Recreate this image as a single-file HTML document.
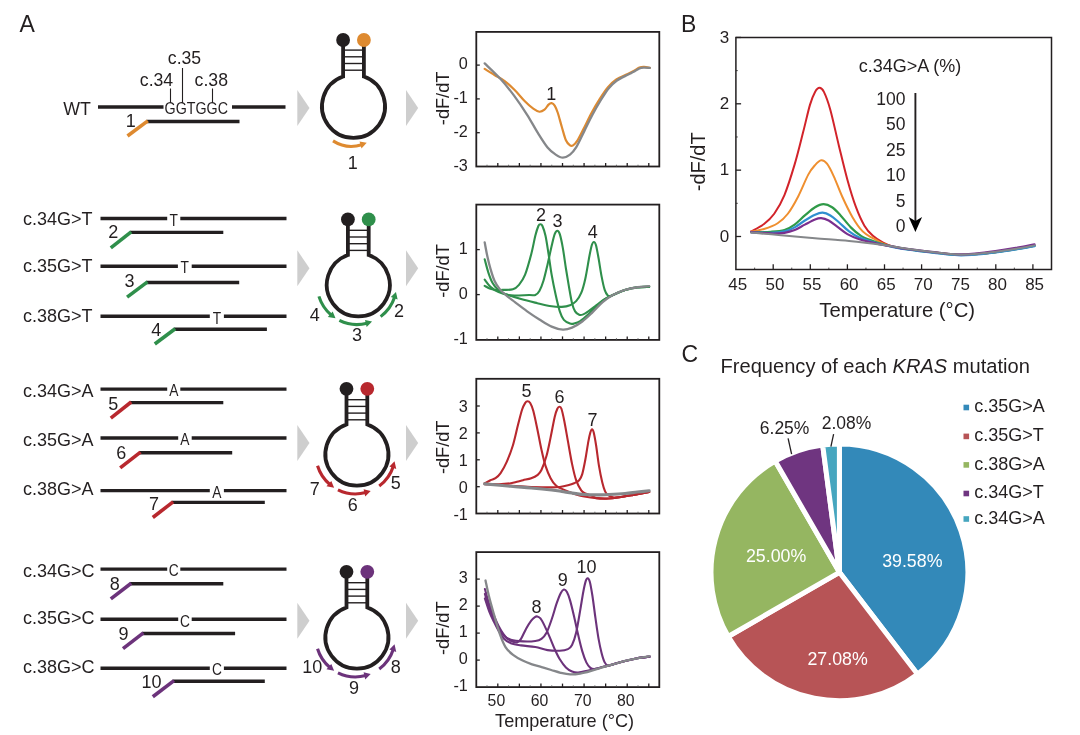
<!DOCTYPE html>
<html lang="en">
<head>
<meta charset="utf-8">
<title>KRAS mutation melting curve analysis</title>
<style>
html,body{margin:0;padding:0;background:#fff;}
body{width:1080px;height:735px;overflow:hidden;}
svg{display:block;font-family:"Liberation Sans", Arial, Helvetica, sans-serif;}
</style>
</head>
<body>
<svg width="1080" height="735" viewBox="0 0 1080 735">
<rect width="1080" height="735" fill="#fff"/>
<text x="19.5" y="31.6" font-size="23" text-anchor="start" fill="#231f20">A</text>
<text x="681" y="31.6" font-size="23" text-anchor="start" fill="#231f20">B</text>
<text x="681.6" y="361.5" font-size="23" text-anchor="start" fill="#231f20">C</text>
<text x="63.3" y="114.9" font-size="17.8" text-anchor="start" fill="#231f20">WT</text>
<line x1="98" y1="107" x2="163.5" y2="107" stroke="#231f20" stroke-width="3.4" stroke-linecap="butt"/>
<line x1="232" y1="107" x2="285.5" y2="107" stroke="#231f20" stroke-width="3.4" stroke-linecap="butt"/>
<text transform="translate(196.3,113.8) scale(0.85,1)" font-size="16.8" text-anchor="middle" fill="#231f20">GGTGGC</text>
<text transform="translate(156.5,86) scale(1.01,1)" font-size="17.5" text-anchor="middle" fill="#231f20">c.34</text>
<text transform="translate(184.5,64.4) scale(1.01,1)" font-size="17.5" text-anchor="middle" fill="#231f20">c.35</text>
<text transform="translate(211.3,86) scale(1.01,1)" font-size="17.5" text-anchor="middle" fill="#231f20">c.38</text>
<line x1="170.5" y1="88.5" x2="170.5" y2="103" stroke="#231f20" stroke-width="1.1" stroke-linecap="butt"/>
<line x1="182.5" y1="68" x2="182.5" y2="103" stroke="#231f20" stroke-width="1.1" stroke-linecap="butt"/>
<line x1="212.5" y1="88.5" x2="212.5" y2="103" stroke="#231f20" stroke-width="1.1" stroke-linecap="butt"/>
<line x1="146.5" y1="121.5" x2="239.5" y2="121.5" stroke="#231f20" stroke-width="3.4" stroke-linecap="butt"/>
<line x1="147.8" y1="120.9" x2="127.5" y2="136" stroke="#de8a30" stroke-width="3.6" stroke-linecap="butt"/>
<text x="130.8" y="127" font-size="18" text-anchor="middle" fill="#231f20">1</text>
<line x1="343.1" y1="50.1" x2="363.9" y2="50.1" stroke="#231f20" stroke-width="1.4" stroke-linecap="butt"/>
<line x1="343.1" y1="56.8" x2="363.9" y2="56.8" stroke="#231f20" stroke-width="1.4" stroke-linecap="butt"/>
<line x1="343.1" y1="63.5" x2="363.9" y2="63.5" stroke="#231f20" stroke-width="1.4" stroke-linecap="butt"/>
<line x1="343.1" y1="70.2" x2="363.9" y2="70.2" stroke="#231f20" stroke-width="1.4" stroke-linecap="butt"/>
<path d="M343.1,40 L343.1,76.57 A31.5,31.5 0 1 0 363.9,76.57 L363.9,40" fill="none" stroke="#231f20" stroke-width="3.8" stroke-linejoin="miter"/>
<circle cx="343.1" cy="40" r="6.9" fill="#231f20"/>
<circle cx="363.9" cy="40" r="6.9" fill="#de8a30"/>
<polygon points="297.3,90.1 309.5,108.1 297.3,126.1" fill="#cecece"/>
<polygon points="406,90.1 418.2,108.1 406,126.1" fill="#cecece"/>
<path d="M333.02,140.9 A34.3,34.3 0 0 0 361.8,144.72" fill="none" stroke="#de8a30" stroke-width="3.1"/>
<polygon points="366.7,142.75 361.49,148.59 359.58,141.59" fill="#de8a30"/>
<text x="352.8" y="168.9" font-size="18" text-anchor="middle" fill="#231f20">1</text>
<text x="22.9" y="224.6" font-size="18" text-anchor="start" fill="#231f20">c.34G&gt;T</text>
<line x1="100.5" y1="218.5" x2="167.2" y2="218.5" stroke="#231f20" stroke-width="3.4" stroke-linecap="butt"/>
<line x1="180.3" y1="218.5" x2="286.5" y2="218.5" stroke="#231f20" stroke-width="3.4" stroke-linecap="butt"/>
<text transform="translate(173.75,225.7) scale(0.82,1)" font-size="16.8" text-anchor="middle" fill="#231f20">T</text>
<line x1="129.9" y1="232.4" x2="223.3" y2="232.4" stroke="#231f20" stroke-width="3.4" stroke-linecap="butt"/>
<line x1="131.2" y1="231.8" x2="110.8" y2="247.9" stroke="#2f8f4b" stroke-width="3.6" stroke-linecap="butt"/>
<text x="113.3" y="237.8" font-size="18" text-anchor="middle" fill="#231f20">2</text>
<text x="22.9" y="272" font-size="18" text-anchor="start" fill="#231f20">c.35G&gt;T</text>
<line x1="100.5" y1="266.2" x2="177.9" y2="266.2" stroke="#231f20" stroke-width="3.4" stroke-linecap="butt"/>
<line x1="191.7" y1="266.2" x2="286.5" y2="266.2" stroke="#231f20" stroke-width="3.4" stroke-linecap="butt"/>
<text transform="translate(184.8,273.4) scale(0.82,1)" font-size="16.8" text-anchor="middle" fill="#231f20">T</text>
<line x1="146.2" y1="282.5" x2="239.2" y2="282.5" stroke="#231f20" stroke-width="3.4" stroke-linecap="butt"/>
<line x1="147.5" y1="281.9" x2="127.1" y2="297.1" stroke="#2f8f4b" stroke-width="3.6" stroke-linecap="butt"/>
<text x="129.6" y="286.8" font-size="18" text-anchor="middle" fill="#231f20">3</text>
<text x="22.9" y="321.8" font-size="18" text-anchor="start" fill="#231f20">c.38G&gt;T</text>
<line x1="100.5" y1="316.3" x2="209.8" y2="316.3" stroke="#231f20" stroke-width="3.4" stroke-linecap="butt"/>
<line x1="223.9" y1="316.3" x2="286.5" y2="316.3" stroke="#231f20" stroke-width="3.4" stroke-linecap="butt"/>
<text transform="translate(216.85,323.5) scale(0.82,1)" font-size="16.8" text-anchor="middle" fill="#231f20">T</text>
<line x1="173.9" y1="329.3" x2="266.9" y2="329.3" stroke="#231f20" stroke-width="3.4" stroke-linecap="butt"/>
<line x1="175.2" y1="328.7" x2="154.8" y2="344" stroke="#2f8f4b" stroke-width="3.6" stroke-linecap="butt"/>
<text x="156.3" y="335.7" font-size="18" text-anchor="middle" fill="#231f20">4</text>
<line x1="347.9" y1="230.3" x2="368.7" y2="230.3" stroke="#231f20" stroke-width="1.4" stroke-linecap="butt"/>
<line x1="347.9" y1="237" x2="368.7" y2="237" stroke="#231f20" stroke-width="1.4" stroke-linecap="butt"/>
<line x1="347.9" y1="243.7" x2="368.7" y2="243.7" stroke="#231f20" stroke-width="1.4" stroke-linecap="butt"/>
<line x1="347.9" y1="250.4" x2="368.7" y2="250.4" stroke="#231f20" stroke-width="1.4" stroke-linecap="butt"/>
<path d="M347.9,219.4 L347.9,255.07 A31.5,31.5 0 1 0 368.7,255.07 L368.7,219.4" fill="none" stroke="#231f20" stroke-width="3.8" stroke-linejoin="miter"/>
<circle cx="347.9" cy="219.4" r="6.9" fill="#231f20"/>
<circle cx="368.7" cy="219.4" r="6.9" fill="#2f8f4b"/>
<polygon points="297.3,250.3 309.5,268.3 297.3,286.3" fill="#cecece"/>
<polygon points="406,250.3 418.2,268.3 406,286.3" fill="#cecece"/>
<path d="M318.93,296.41 A39.7,39.7 0 0 0 331.26,315.11" fill="none" stroke="#2f8f4b" stroke-width="3.1"/>
<polygon points="335.51,318.25 327.84,316.94 332.71,311.55" fill="#2f8f4b"/>
<path d="M339.37,320.42 A39.7,39.7 0 0 0 367.09,323.17" fill="none" stroke="#2f8f4b" stroke-width="3.1"/>
<polygon points="372.09,321.48 366.63,327.02 365,319.95" fill="#2f8f4b"/>
<path d="M380.63,316.63 A39.7,39.7 0 0 0 394.65,297.08" fill="none" stroke="#2f8f4b" stroke-width="3.1"/>
<polygon points="395.95,291.97 397.64,299.57 390.81,297.09" fill="#2f8f4b"/>
<text x="314.7" y="321.2" font-size="18" text-anchor="middle" fill="#231f20">4</text>
<text x="356.9" y="340.7" font-size="18" text-anchor="middle" fill="#231f20">3</text>
<text x="398.9" y="317.1" font-size="18" text-anchor="middle" fill="#231f20">2</text>
<text x="22.9" y="396.8" font-size="18" text-anchor="start" fill="#231f20">c.34G&gt;A</text>
<line x1="100.5" y1="389.1" x2="167.2" y2="389.1" stroke="#231f20" stroke-width="3.4" stroke-linecap="butt"/>
<line x1="180.3" y1="389.1" x2="286.5" y2="389.1" stroke="#231f20" stroke-width="3.4" stroke-linecap="butt"/>
<text transform="translate(173.75,396.3) scale(0.82,1)" font-size="16.8" text-anchor="middle" fill="#231f20">A</text>
<line x1="129.9" y1="402.6" x2="223.3" y2="402.6" stroke="#231f20" stroke-width="3.4" stroke-linecap="butt"/>
<line x1="131.2" y1="402" x2="110.8" y2="418.1" stroke="#b8282e" stroke-width="3.6" stroke-linecap="butt"/>
<text x="113.3" y="409.7" font-size="18" text-anchor="middle" fill="#231f20">5</text>
<text x="22.9" y="446.4" font-size="18" text-anchor="start" fill="#231f20">c.35G&gt;A</text>
<line x1="100.5" y1="438" x2="178.2" y2="438" stroke="#231f20" stroke-width="3.4" stroke-linecap="butt"/>
<line x1="191.7" y1="438" x2="286.5" y2="438" stroke="#231f20" stroke-width="3.4" stroke-linecap="butt"/>
<text transform="translate(184.95,445.2) scale(0.82,1)" font-size="16.8" text-anchor="middle" fill="#231f20">A</text>
<line x1="139.2" y1="452.7" x2="232.2" y2="452.7" stroke="#231f20" stroke-width="3.4" stroke-linecap="butt"/>
<line x1="140.5" y1="452.1" x2="120.2" y2="467.8" stroke="#b8282e" stroke-width="3.6" stroke-linecap="butt"/>
<text x="121.2" y="459.4" font-size="18" text-anchor="middle" fill="#231f20">6</text>
<text x="22.9" y="495.3" font-size="18" text-anchor="start" fill="#231f20">c.38G&gt;A</text>
<line x1="100.5" y1="490.6" x2="209.8" y2="490.6" stroke="#231f20" stroke-width="3.4" stroke-linecap="butt"/>
<line x1="223.9" y1="490.6" x2="286.5" y2="490.6" stroke="#231f20" stroke-width="3.4" stroke-linecap="butt"/>
<text transform="translate(216.85,497.8) scale(0.82,1)" font-size="16.8" text-anchor="middle" fill="#231f20">A</text>
<line x1="171.8" y1="502.4" x2="264.8" y2="502.4" stroke="#231f20" stroke-width="3.4" stroke-linecap="butt"/>
<line x1="173.1" y1="501.8" x2="152.8" y2="517.5" stroke="#b8282e" stroke-width="3.6" stroke-linecap="butt"/>
<text x="154.1" y="509.5" font-size="18" text-anchor="middle" fill="#231f20">7</text>
<line x1="346.5" y1="399.7" x2="367.3" y2="399.7" stroke="#231f20" stroke-width="1.4" stroke-linecap="butt"/>
<line x1="346.5" y1="406.4" x2="367.3" y2="406.4" stroke="#231f20" stroke-width="1.4" stroke-linecap="butt"/>
<line x1="346.5" y1="413.1" x2="367.3" y2="413.1" stroke="#231f20" stroke-width="1.4" stroke-linecap="butt"/>
<line x1="346.5" y1="419.8" x2="367.3" y2="419.8" stroke="#231f20" stroke-width="1.4" stroke-linecap="butt"/>
<path d="M346.5,388.8 L346.5,424.47 A31.5,31.5 0 1 0 367.3,424.47 L367.3,388.8" fill="none" stroke="#231f20" stroke-width="3.8" stroke-linejoin="miter"/>
<circle cx="346.5" cy="388.8" r="6.9" fill="#231f20"/>
<circle cx="367.3" cy="388.8" r="6.9" fill="#b8282e"/>
<polygon points="297.3,425 309.5,443 297.3,461" fill="#cecece"/>
<polygon points="406,425 418.2,443 406,461" fill="#cecece"/>
<path d="M317.53,465.81 A39.7,39.7 0 0 0 329.86,484.51" fill="none" stroke="#b8282e" stroke-width="3.1"/>
<polygon points="334.11,487.65 326.44,486.34 331.31,480.95" fill="#b8282e"/>
<path d="M337.97,489.82 A39.7,39.7 0 0 0 365.69,492.57" fill="none" stroke="#b8282e" stroke-width="3.1"/>
<polygon points="370.69,490.88 365.23,496.42 363.6,489.35" fill="#b8282e"/>
<path d="M379.23,486.03 A39.7,39.7 0 0 0 393.25,466.48" fill="none" stroke="#b8282e" stroke-width="3.1"/>
<polygon points="394.55,461.37 396.24,468.97 389.41,466.49" fill="#b8282e"/>
<text x="314.7" y="495.1" font-size="18" text-anchor="middle" fill="#231f20">7</text>
<text x="352.8" y="511.4" font-size="18" text-anchor="middle" fill="#231f20">6</text>
<text x="395.8" y="489.4" font-size="18" text-anchor="middle" fill="#231f20">5</text>
<text x="22.9" y="576.8" font-size="18" text-anchor="start" fill="#231f20">c.34G&gt;C</text>
<line x1="100.5" y1="569.1" x2="167.2" y2="569.1" stroke="#231f20" stroke-width="3.4" stroke-linecap="butt"/>
<line x1="180.3" y1="569.1" x2="286.5" y2="569.1" stroke="#231f20" stroke-width="3.4" stroke-linecap="butt"/>
<text transform="translate(173.75,576.3) scale(0.82,1)" font-size="16.8" text-anchor="middle" fill="#231f20">C</text>
<line x1="129.9" y1="583.8" x2="223.3" y2="583.8" stroke="#231f20" stroke-width="3.4" stroke-linecap="butt"/>
<line x1="131.2" y1="583.2" x2="110.8" y2="598.9" stroke="#6c337b" stroke-width="3.6" stroke-linecap="butt"/>
<text x="114.7" y="589.7" font-size="18" text-anchor="middle" fill="#231f20">8</text>
<text x="22.9" y="624" font-size="18" text-anchor="start" fill="#231f20">c.35G&gt;C</text>
<line x1="100.5" y1="619.3" x2="178.2" y2="619.3" stroke="#231f20" stroke-width="3.4" stroke-linecap="butt"/>
<line x1="191.7" y1="619.3" x2="286.5" y2="619.3" stroke="#231f20" stroke-width="3.4" stroke-linecap="butt"/>
<text transform="translate(184.95,626.5) scale(0.82,1)" font-size="16.8" text-anchor="middle" fill="#231f20">C</text>
<line x1="142.1" y1="633.5" x2="235.1" y2="633.5" stroke="#231f20" stroke-width="3.4" stroke-linecap="butt"/>
<line x1="143.4" y1="632.9" x2="123" y2="648.6" stroke="#6c337b" stroke-width="3.6" stroke-linecap="butt"/>
<text x="123.5" y="640.2" font-size="18" text-anchor="middle" fill="#231f20">9</text>
<text x="22.9" y="673.3" font-size="18" text-anchor="start" fill="#231f20">c.38G&gt;C</text>
<line x1="100.5" y1="668.2" x2="209.8" y2="668.2" stroke="#231f20" stroke-width="3.4" stroke-linecap="butt"/>
<line x1="223.9" y1="668.2" x2="286.5" y2="668.2" stroke="#231f20" stroke-width="3.4" stroke-linecap="butt"/>
<text transform="translate(216.85,675.4) scale(0.82,1)" font-size="16.8" text-anchor="middle" fill="#231f20">C</text>
<line x1="172.7" y1="681.2" x2="264.8" y2="681.2" stroke="#231f20" stroke-width="3.4" stroke-linecap="butt"/>
<line x1="174" y1="680.6" x2="152.8" y2="696.7" stroke="#6c337b" stroke-width="3.6" stroke-linecap="butt"/>
<text x="151.4" y="688.3" font-size="18" text-anchor="middle" fill="#231f20">10</text>
<line x1="346.5" y1="582.7" x2="367.3" y2="582.7" stroke="#231f20" stroke-width="1.4" stroke-linecap="butt"/>
<line x1="346.5" y1="589.4" x2="367.3" y2="589.4" stroke="#231f20" stroke-width="1.4" stroke-linecap="butt"/>
<line x1="346.5" y1="596.1" x2="367.3" y2="596.1" stroke="#231f20" stroke-width="1.4" stroke-linecap="butt"/>
<line x1="346.5" y1="602.8" x2="367.3" y2="602.8" stroke="#231f20" stroke-width="1.4" stroke-linecap="butt"/>
<path d="M346.5,571.8 L346.5,607.47 A31.5,31.5 0 1 0 367.3,607.47 L367.3,571.8" fill="none" stroke="#231f20" stroke-width="3.8" stroke-linejoin="miter"/>
<circle cx="346.5" cy="571.8" r="6.9" fill="#231f20"/>
<circle cx="367.3" cy="571.8" r="6.9" fill="#6c337b"/>
<polygon points="297.3,602.8 309.5,620.8 297.3,638.8" fill="#cecece"/>
<polygon points="406,602.8 418.2,620.8 406,638.8" fill="#cecece"/>
<path d="M317.53,648.81 A39.7,39.7 0 0 0 329.86,667.51" fill="none" stroke="#6c337b" stroke-width="3.1"/>
<polygon points="334.11,670.65 326.44,669.34 331.31,663.95" fill="#6c337b"/>
<path d="M337.97,672.82 A39.7,39.7 0 0 0 365.69,675.57" fill="none" stroke="#6c337b" stroke-width="3.1"/>
<polygon points="370.69,673.88 365.23,679.42 363.6,672.35" fill="#6c337b"/>
<path d="M379.23,669.03 A39.7,39.7 0 0 0 393.25,649.48" fill="none" stroke="#6c337b" stroke-width="3.1"/>
<polygon points="394.55,644.37 396.24,651.97 389.41,649.49" fill="#6c337b"/>
<text x="312.3" y="673.4" font-size="18" text-anchor="middle" fill="#231f20">10</text>
<text x="353.9" y="693.8" font-size="18" text-anchor="middle" fill="#231f20">9</text>
<text x="395.8" y="672.5" font-size="18" text-anchor="middle" fill="#231f20">8</text>
<path d="M484.69,68.88 C486.33,69.9 491.16,72.96 494.49,75 C497.82,77.04 501.29,78.57 504.69,81.12 C508.1,83.67 511.5,86.9 514.9,90.31 C518.3,93.71 522.04,98.47 525.1,101.53 C528.16,104.59 530.88,106.97 533.27,108.67 C535.65,110.37 537.52,111.56 539.39,111.73 C541.26,111.9 542.96,110.88 544.49,109.69 C546.02,108.5 547.38,105.68 548.57,104.59 C549.76,103.5 550.61,102.99 551.63,103.16 C552.65,103.33 553.67,104.01 554.69,105.61 C555.71,107.21 556.56,109.18 557.76,112.76 C558.95,116.33 560.48,122.45 561.84,127.04 C563.2,131.63 564.56,137.24 565.92,140.31 C567.28,143.37 568.81,144.56 570,145.41 C571.19,146.26 571.8,146.26 573.06,145.41 C574.32,144.56 575.82,143.03 577.55,140.31 C579.29,137.59 581.12,133.67 583.47,129.08 C585.82,124.49 588.91,117.79 591.63,112.76 C594.35,107.72 597.07,103.13 599.8,98.88 C602.52,94.63 605.2,90.48 607.96,87.24 C610.71,84.01 613.03,81.7 616.33,79.49 C619.63,77.28 624.86,75.41 627.76,73.98 C630.65,72.55 631.73,71.97 633.67,70.92 C635.61,69.86 637.65,68.32 639.39,67.65 C641.12,66.99 642.35,66.9 644.08,66.94 C645.82,66.97 648.84,67.7 649.8,67.86" fill="none" stroke="#de8a30" stroke-width="2.2" stroke-linejoin="round" stroke-linecap="round"/>
<path d="M484.69,63.37 C487.35,65.99 495.75,73.74 500.61,79.08 C505.48,84.42 509.46,89.46 513.88,95.41 C518.3,101.36 523.23,108.67 527.14,114.8 C531.05,120.92 533.95,126.7 537.35,132.14 C540.75,137.59 544.49,143.71 547.55,147.45 C550.61,151.19 553.16,152.89 555.71,154.59 C558.27,156.29 560.48,157.65 562.86,157.65 C565.24,157.65 567.79,156.29 570,154.59 C572.21,152.89 573.74,151.36 576.12,147.45 C578.5,143.54 581.56,136.56 584.29,131.12 C587.01,125.68 589.73,119.9 592.45,114.8 C595.17,109.69 597.89,104.93 600.61,100.51 C603.33,96.09 606.05,91.6 608.78,88.27 C611.5,84.93 613.78,82.76 616.94,80.51 C620.1,78.27 624.97,76.24 627.76,74.8 C630.54,73.35 631.73,72.89 633.67,71.84 C635.61,70.78 637.65,69.17 639.39,68.47 C641.12,67.77 642.35,67.76 644.08,67.65 C645.82,67.55 648.84,67.82 649.8,67.86" fill="none" stroke="#85878a" stroke-width="2.3" stroke-linejoin="round" stroke-linecap="round"/>
<text x="551.2" y="99.7" font-size="18" text-anchor="middle" fill="#231f20">1</text>
<rect x="476.3" y="31.9" width="183" height="134.6" fill="none" stroke="#231f20" stroke-width="1.8"/>
<line x1="487.01" y1="166.5" x2="487.01" y2="164.7" stroke="#555" stroke-width="0.8" stroke-linecap="butt"/>
<line x1="497.8" y1="166.5" x2="497.8" y2="163" stroke="#231f20" stroke-width="1.3" stroke-linecap="butt"/>
<line x1="508.59" y1="166.5" x2="508.59" y2="164.7" stroke="#555" stroke-width="0.8" stroke-linecap="butt"/>
<line x1="519.37" y1="166.5" x2="519.37" y2="163" stroke="#231f20" stroke-width="1.3" stroke-linecap="butt"/>
<line x1="530.15" y1="166.5" x2="530.15" y2="164.7" stroke="#555" stroke-width="0.8" stroke-linecap="butt"/>
<line x1="540.94" y1="166.5" x2="540.94" y2="163" stroke="#231f20" stroke-width="1.3" stroke-linecap="butt"/>
<line x1="551.73" y1="166.5" x2="551.73" y2="164.7" stroke="#555" stroke-width="0.8" stroke-linecap="butt"/>
<line x1="562.51" y1="166.5" x2="562.51" y2="163" stroke="#231f20" stroke-width="1.3" stroke-linecap="butt"/>
<line x1="573.3" y1="166.5" x2="573.3" y2="164.7" stroke="#555" stroke-width="0.8" stroke-linecap="butt"/>
<line x1="584.08" y1="166.5" x2="584.08" y2="163" stroke="#231f20" stroke-width="1.3" stroke-linecap="butt"/>
<line x1="594.87" y1="166.5" x2="594.87" y2="164.7" stroke="#555" stroke-width="0.8" stroke-linecap="butt"/>
<line x1="605.65" y1="166.5" x2="605.65" y2="163" stroke="#231f20" stroke-width="1.3" stroke-linecap="butt"/>
<line x1="616.44" y1="166.5" x2="616.44" y2="164.7" stroke="#555" stroke-width="0.8" stroke-linecap="butt"/>
<line x1="627.22" y1="166.5" x2="627.22" y2="163" stroke="#231f20" stroke-width="1.3" stroke-linecap="butt"/>
<line x1="638" y1="166.5" x2="638" y2="164.7" stroke="#555" stroke-width="0.8" stroke-linecap="butt"/>
<line x1="648.79" y1="166.5" x2="648.79" y2="163" stroke="#231f20" stroke-width="1.3" stroke-linecap="butt"/>
<line x1="476.3" y1="65.1" x2="479.8" y2="65.1" stroke="#231f20" stroke-width="1.3" stroke-linecap="butt"/>
<line x1="476.3" y1="98.9" x2="479.8" y2="98.9" stroke="#231f20" stroke-width="1.3" stroke-linecap="butt"/>
<line x1="476.3" y1="132.7" x2="479.8" y2="132.7" stroke="#231f20" stroke-width="1.3" stroke-linecap="butt"/>
<text x="467.8" y="69.3" font-size="16.2" text-anchor="end" fill="#231f20">0</text>
<text x="467.8" y="103.1" font-size="16.2" text-anchor="end" fill="#231f20">-1</text>
<text x="467.8" y="136.9" font-size="16.2" text-anchor="end" fill="#231f20">-2</text>
<text x="467.8" y="170.7" font-size="16.2" text-anchor="end" fill="#231f20">-3</text>
<text transform="translate(448.5,98.4) rotate(-90)" font-size="18.2" text-anchor="middle" fill="#231f20">-dF/dT</text>
<path d="M484.69,285.82 C485.65,286.33 488.44,288.16 490.41,288.88 C492.38,289.59 494.49,289.93 496.53,290.1 C498.57,290.27 499.93,290.03 502.65,289.9 C505.37,289.76 510.14,290.14 512.86,289.29 C515.58,288.44 516.94,287.24 518.98,284.8 C521.02,282.35 523.06,279.69 525.1,274.59 C527.14,269.49 529.52,260.65 531.22,254.18 C532.93,247.72 534.12,240.51 535.31,235.82 C536.5,231.12 537.52,227.96 538.37,226.02 C539.22,224.08 539.73,224.18 540.41,224.18 C541.09,224.18 541.6,224.08 542.45,226.02 C543.3,227.96 544.49,231.12 545.51,235.82 C546.53,240.51 547.55,247.72 548.57,254.18 C549.59,260.65 550.44,267.79 551.63,274.59 C552.82,281.39 554.35,288.88 555.71,295 C557.07,301.12 558.44,307.18 559.8,311.33 C561.16,315.48 562.18,317.86 563.88,319.9 C565.58,321.94 568.3,322.96 570,323.57 C571.7,324.18 572.38,323.98 574.08,323.57 C575.78,323.16 577.82,322.65 580.2,321.12 C582.59,319.59 585.65,316.87 588.37,314.39 C591.09,311.9 593.81,308.71 596.53,306.22 C599.25,303.74 601.97,301.36 604.69,299.49 C607.41,297.62 609.46,296.6 612.86,295 C616.26,293.4 621.02,291.19 625.1,289.9 C629.18,288.61 633.33,287.76 637.35,287.24 C641.36,286.73 647.21,286.9 649.18,286.84" fill="none" stroke="#2f8f4b" stroke-width="2.1" stroke-linejoin="round" stroke-linecap="round"/>
<path d="M484.69,279.69 C485.65,280.88 488.1,284.8 490.41,286.84 C492.72,288.88 495.17,290.51 498.57,291.94 C501.97,293.37 505.71,294.9 510.82,295.41 C515.92,295.92 525.1,295.07 529.18,295 C533.27,294.93 533.61,295.68 535.31,295 C537.01,294.32 538.03,293.3 539.39,290.92 C540.75,288.54 542.11,285.14 543.47,280.71 C544.83,276.29 546.19,270.17 547.55,264.39 C548.91,258.61 550.44,251.05 551.63,246.02 C552.82,240.99 553.74,236.73 554.69,234.18 C555.65,231.63 556.5,230.71 557.35,230.71 C558.2,230.71 558.88,231.29 559.8,234.18 C560.71,237.07 561.84,242.35 562.86,248.06 C563.88,253.78 564.9,262.01 565.92,268.47 C566.94,274.93 567.96,281.05 568.98,286.84 C570,292.62 571.02,299.08 572.04,303.16 C573.06,307.24 573.91,309.39 575.1,311.33 C576.29,313.27 577.82,314.29 579.18,314.8 C580.54,315.31 581.73,314.97 583.27,314.39 C584.8,313.81 586.16,312.86 588.37,311.33 C590.58,309.8 593.81,307.24 596.53,305.2 C599.25,303.16 601.97,300.78 604.69,299.08 C607.41,297.38 609.46,296.53 612.86,295 C616.26,293.47 621.02,291.19 625.1,289.9 C629.18,288.61 633.33,287.76 637.35,287.24 C641.36,286.73 647.21,286.9 649.18,286.84" fill="none" stroke="#2f8f4b" stroke-width="2.1" stroke-linejoin="round" stroke-linecap="round"/>
<path d="M484.69,259.29 C485.31,261.5 487.07,268.64 488.37,272.55 C489.66,276.46 490.92,279.97 492.45,282.76 C493.98,285.54 495.85,287.59 497.55,289.29 C499.25,290.99 498.74,291.33 502.65,292.96 C506.56,294.59 515.24,297.38 521.02,299.08 C526.8,300.78 532.24,301.97 537.35,303.16 C542.45,304.35 547.55,305.61 551.63,306.22 C555.71,306.84 558.78,307.01 561.84,306.84 C564.9,306.67 567.62,306.16 570,305.2 C572.38,304.25 574.25,303.16 576.12,301.12 C577.99,299.08 579.69,296.7 581.22,292.96 C582.76,289.22 583.95,284.8 585.31,278.67 C586.67,272.55 588.3,261.84 589.39,256.22 C590.48,250.61 591.09,247.38 591.84,245 C592.59,242.62 593.2,241.94 593.88,241.94 C594.56,241.94 595.14,242.28 595.92,245 C596.7,247.72 597.62,252.99 598.57,258.27 C599.52,263.54 600.61,271.36 601.63,276.63 C602.65,281.9 603.67,286.77 604.69,289.9 C605.71,293.03 606.73,294.39 607.76,295.41 C608.78,296.43 609.29,296.39 610.82,296.02 C612.35,295.65 614.56,294.15 616.94,293.16 C619.32,292.18 621.7,291.05 625.1,290.1 C628.5,289.15 633.33,287.99 637.35,287.45 C641.36,286.9 647.21,286.94 649.18,286.84" fill="none" stroke="#2f8f4b" stroke-width="2.1" stroke-linejoin="round" stroke-linecap="round"/>
<path d="M484.69,242.35 C485.14,244.66 486.39,251.87 487.35,256.22 C488.3,260.58 489.22,264.39 490.41,268.47 C491.6,272.55 492.96,277.31 494.49,280.71 C496.02,284.12 497.72,286.5 499.59,288.88 C501.46,291.26 503.16,292.79 505.71,295 C508.27,297.21 511.33,299.42 514.9,302.14 C518.47,304.86 523.06,308.44 527.14,311.33 C531.22,314.22 535.31,316.94 539.39,319.49 C543.47,322.04 547.72,324.93 551.63,326.63 C555.54,328.33 559.46,329.52 562.86,329.69 C566.26,329.86 568.81,329.01 572.04,327.65 C575.27,326.29 578.84,324.08 582.24,321.53 C585.65,318.98 589.05,315.58 592.45,312.35 C595.85,309.12 599.25,305.03 602.65,302.14 C606.05,299.25 609.12,297.04 612.86,295 C616.6,292.96 621.02,291.19 625.1,289.9 C629.18,288.61 633.33,287.86 637.35,287.24 C641.36,286.63 647.21,286.39 649.18,286.22" fill="none" stroke="#85878a" stroke-width="2.3" stroke-linejoin="round" stroke-linecap="round"/>
<text x="541" y="221.3" font-size="18" text-anchor="middle" fill="#231f20">2</text>
<text x="557.5" y="227.3" font-size="18" text-anchor="middle" fill="#231f20">3</text>
<text x="592.7" y="237.5" font-size="18" text-anchor="middle" fill="#231f20">4</text>
<rect x="476.3" y="204.6" width="183" height="135.3" fill="none" stroke="#231f20" stroke-width="1.8"/>
<line x1="487.01" y1="339.9" x2="487.01" y2="338.1" stroke="#555" stroke-width="0.8" stroke-linecap="butt"/>
<line x1="497.8" y1="339.9" x2="497.8" y2="336.4" stroke="#231f20" stroke-width="1.3" stroke-linecap="butt"/>
<line x1="508.59" y1="339.9" x2="508.59" y2="338.1" stroke="#555" stroke-width="0.8" stroke-linecap="butt"/>
<line x1="519.37" y1="339.9" x2="519.37" y2="336.4" stroke="#231f20" stroke-width="1.3" stroke-linecap="butt"/>
<line x1="530.15" y1="339.9" x2="530.15" y2="338.1" stroke="#555" stroke-width="0.8" stroke-linecap="butt"/>
<line x1="540.94" y1="339.9" x2="540.94" y2="336.4" stroke="#231f20" stroke-width="1.3" stroke-linecap="butt"/>
<line x1="551.73" y1="339.9" x2="551.73" y2="338.1" stroke="#555" stroke-width="0.8" stroke-linecap="butt"/>
<line x1="562.51" y1="339.9" x2="562.51" y2="336.4" stroke="#231f20" stroke-width="1.3" stroke-linecap="butt"/>
<line x1="573.3" y1="339.9" x2="573.3" y2="338.1" stroke="#555" stroke-width="0.8" stroke-linecap="butt"/>
<line x1="584.08" y1="339.9" x2="584.08" y2="336.4" stroke="#231f20" stroke-width="1.3" stroke-linecap="butt"/>
<line x1="594.87" y1="339.9" x2="594.87" y2="338.1" stroke="#555" stroke-width="0.8" stroke-linecap="butt"/>
<line x1="605.65" y1="339.9" x2="605.65" y2="336.4" stroke="#231f20" stroke-width="1.3" stroke-linecap="butt"/>
<line x1="616.44" y1="339.9" x2="616.44" y2="338.1" stroke="#555" stroke-width="0.8" stroke-linecap="butt"/>
<line x1="627.22" y1="339.9" x2="627.22" y2="336.4" stroke="#231f20" stroke-width="1.3" stroke-linecap="butt"/>
<line x1="638" y1="339.9" x2="638" y2="338.1" stroke="#555" stroke-width="0.8" stroke-linecap="butt"/>
<line x1="648.79" y1="339.9" x2="648.79" y2="336.4" stroke="#231f20" stroke-width="1.3" stroke-linecap="butt"/>
<line x1="476.3" y1="249.6" x2="479.8" y2="249.6" stroke="#231f20" stroke-width="1.3" stroke-linecap="butt"/>
<line x1="476.3" y1="294.6" x2="479.8" y2="294.6" stroke="#231f20" stroke-width="1.3" stroke-linecap="butt"/>
<text x="467.8" y="253.8" font-size="16.2" text-anchor="end" fill="#231f20">1</text>
<text x="467.8" y="298.8" font-size="16.2" text-anchor="end" fill="#231f20">0</text>
<text x="467.8" y="343.8" font-size="16.2" text-anchor="end" fill="#231f20">-1</text>
<text transform="translate(448.5,271) rotate(-90)" font-size="18.2" text-anchor="middle" fill="#231f20">-dF/dT</text>
<path d="M484.69,483.27 C485.65,482.76 488.61,481.05 490.41,480.2 C492.21,479.35 493.81,479.35 495.51,478.16 C497.21,476.97 498.74,475.78 500.61,473.06 C502.48,470.34 504.69,466.43 506.73,461.84 C508.78,457.24 510.99,451.63 512.86,445.51 C514.73,439.39 516.43,431.05 517.96,425.1 C519.49,419.15 520.85,413.47 522.04,409.8 C523.23,406.12 524.18,404.49 525.1,403.06 C526.02,401.63 526.7,401.22 527.55,401.22 C528.4,401.22 529.25,401.46 530.2,403.06 C531.16,404.66 532.07,406.46 533.27,410.82 C534.46,415.17 535.99,422.72 537.35,429.18 C538.71,435.65 540.07,443.47 541.43,449.59 C542.79,455.71 543.98,461.16 545.51,465.92 C547.04,470.68 548.91,474.93 550.61,478.16 C552.31,481.39 554.01,483.61 555.71,485.31 C557.41,487.01 558.78,487.35 560.82,488.37 C562.86,489.39 565.41,490.41 567.96,491.43 C570.51,492.45 573.4,493.64 576.12,494.49 C578.84,495.34 580.88,495.92 584.29,496.53 C587.69,497.14 592.45,497.82 596.53,498.16 C600.61,498.5 604.69,498.78 608.78,498.57 C612.86,498.37 616.94,497.55 621.02,496.94 C625.1,496.33 628.57,495.71 633.27,494.9 C637.96,494.08 646.53,492.52 649.18,492.04" fill="none" stroke="#b8282e" stroke-width="2.1" stroke-linejoin="round" stroke-linecap="round"/>
<path d="M484.69,484.29 C487.01,484.29 494.22,484.46 498.57,484.29 C502.93,484.12 507.76,483.67 510.82,483.27 C513.88,482.86 514.9,482.35 516.94,481.84 C518.98,481.33 520.68,480.82 523.06,480.2 C525.44,479.59 528.84,479.01 531.22,478.16 C533.61,477.31 535.65,476.46 537.35,475.1 C539.05,473.74 539.9,473.23 541.43,470 C542.96,466.77 545,461.16 546.53,455.71 C548.06,450.27 549.25,443.81 550.61,437.35 C551.97,430.88 553.57,421.7 554.69,416.94 C555.82,412.18 556.56,410.48 557.35,408.78 C558.13,407.07 558.71,406.73 559.39,406.73 C560.07,406.73 560.61,406.39 561.43,408.78 C562.24,411.16 563.2,415.58 564.29,421.02 C565.37,426.46 566.67,434.29 567.96,441.43 C569.25,448.57 570.68,457.41 572.04,463.88 C573.4,470.34 574.59,475.78 576.12,480.2 C577.65,484.63 579.69,488.2 581.22,490.41 C582.76,492.62 583.44,492.55 585.31,493.47 C587.18,494.39 590.58,495.14 592.45,495.92 C594.32,496.7 593.81,497.72 596.53,498.16 C599.25,498.61 604.69,498.78 608.78,498.57 C612.86,498.37 616.94,497.55 621.02,496.94 C625.1,496.33 628.57,495.71 633.27,494.9 C637.96,494.08 646.53,492.52 649.18,492.04" fill="none" stroke="#b8282e" stroke-width="2.1" stroke-linejoin="round" stroke-linecap="round"/>
<path d="M484.69,483.88 C489.05,484.22 503.06,485.41 510.82,485.92 C518.57,486.43 524.42,486.7 531.22,486.94 C538.03,487.18 546.87,487.35 551.63,487.35 C556.39,487.35 557.07,487.28 559.8,486.94 C562.52,486.6 565.58,485.92 567.96,485.31 C570.34,484.69 572.21,484.12 574.08,483.27 C575.95,482.41 577.82,481.73 579.18,480.2 C580.54,478.67 581.22,477.48 582.24,474.08 C583.27,470.68 584.29,465.24 585.31,459.8 C586.33,454.35 587.52,446.02 588.37,441.43 C589.22,436.84 589.8,434.29 590.41,432.24 C591.02,430.2 591.5,429.18 592.04,429.18 C592.59,429.18 592.99,429.52 593.67,432.24 C594.35,434.97 595.24,439.9 596.12,445.51 C597.01,451.12 597.96,459.8 598.98,465.92 C600,472.04 601.22,477.99 602.24,482.24 C603.27,486.5 604.18,489.32 605.1,491.43 C606.02,493.54 606.46,493.91 607.76,494.9 C609.05,495.88 610.65,497.01 612.86,497.35 C615.07,497.69 617.62,497.35 621.02,496.94 C624.42,496.53 628.57,495.71 633.27,494.9 C637.96,494.08 646.53,492.52 649.18,492.04" fill="none" stroke="#b8282e" stroke-width="2.1" stroke-linejoin="round" stroke-linecap="round"/>
<path d="M484.69,483.88 C489.05,484.29 503.06,485.65 510.82,486.33 C518.57,487.01 524.42,487.35 531.22,487.96 C538.03,488.57 546.53,489.42 551.63,490 C556.73,490.58 558.44,490.92 561.84,491.43 C565.24,491.94 568.3,492.55 572.04,493.06 C575.78,493.57 580.2,494.18 584.29,494.49 C588.37,494.8 592.45,494.9 596.53,494.9 C600.61,494.9 604.01,494.73 608.78,494.49 C613.54,494.25 620.34,493.88 625.1,493.47 C629.86,493.06 633.33,492.48 637.35,492.04 C641.36,491.6 647.21,491.02 649.18,490.82" fill="none" stroke="#85878a" stroke-width="3.1" stroke-linejoin="round" stroke-linecap="round"/>
<text x="526.5" y="396.5" font-size="18" text-anchor="middle" fill="#231f20">5</text>
<text x="559.5" y="403.3" font-size="18" text-anchor="middle" fill="#231f20">6</text>
<text x="592.5" y="426" font-size="18" text-anchor="middle" fill="#231f20">7</text>
<rect x="476.3" y="378.8" width="183" height="134.7" fill="none" stroke="#231f20" stroke-width="1.8"/>
<line x1="487.01" y1="513.5" x2="487.01" y2="511.7" stroke="#555" stroke-width="0.8" stroke-linecap="butt"/>
<line x1="497.8" y1="513.5" x2="497.8" y2="510" stroke="#231f20" stroke-width="1.3" stroke-linecap="butt"/>
<line x1="508.59" y1="513.5" x2="508.59" y2="511.7" stroke="#555" stroke-width="0.8" stroke-linecap="butt"/>
<line x1="519.37" y1="513.5" x2="519.37" y2="510" stroke="#231f20" stroke-width="1.3" stroke-linecap="butt"/>
<line x1="530.15" y1="513.5" x2="530.15" y2="511.7" stroke="#555" stroke-width="0.8" stroke-linecap="butt"/>
<line x1="540.94" y1="513.5" x2="540.94" y2="510" stroke="#231f20" stroke-width="1.3" stroke-linecap="butt"/>
<line x1="551.73" y1="513.5" x2="551.73" y2="511.7" stroke="#555" stroke-width="0.8" stroke-linecap="butt"/>
<line x1="562.51" y1="513.5" x2="562.51" y2="510" stroke="#231f20" stroke-width="1.3" stroke-linecap="butt"/>
<line x1="573.3" y1="513.5" x2="573.3" y2="511.7" stroke="#555" stroke-width="0.8" stroke-linecap="butt"/>
<line x1="584.08" y1="513.5" x2="584.08" y2="510" stroke="#231f20" stroke-width="1.3" stroke-linecap="butt"/>
<line x1="594.87" y1="513.5" x2="594.87" y2="511.7" stroke="#555" stroke-width="0.8" stroke-linecap="butt"/>
<line x1="605.65" y1="513.5" x2="605.65" y2="510" stroke="#231f20" stroke-width="1.3" stroke-linecap="butt"/>
<line x1="616.44" y1="513.5" x2="616.44" y2="511.7" stroke="#555" stroke-width="0.8" stroke-linecap="butt"/>
<line x1="627.22" y1="513.5" x2="627.22" y2="510" stroke="#231f20" stroke-width="1.3" stroke-linecap="butt"/>
<line x1="638" y1="513.5" x2="638" y2="511.7" stroke="#555" stroke-width="0.8" stroke-linecap="butt"/>
<line x1="648.79" y1="513.5" x2="648.79" y2="510" stroke="#231f20" stroke-width="1.3" stroke-linecap="butt"/>
<line x1="476.3" y1="406" x2="479.8" y2="406" stroke="#231f20" stroke-width="1.3" stroke-linecap="butt"/>
<line x1="476.3" y1="432.9" x2="479.8" y2="432.9" stroke="#231f20" stroke-width="1.3" stroke-linecap="butt"/>
<line x1="476.3" y1="459.8" x2="479.8" y2="459.8" stroke="#231f20" stroke-width="1.3" stroke-linecap="butt"/>
<line x1="476.3" y1="486.7" x2="479.8" y2="486.7" stroke="#231f20" stroke-width="1.3" stroke-linecap="butt"/>
<text x="467.8" y="412.1" font-size="16.2" text-anchor="end" fill="#231f20">3</text>
<text x="467.8" y="439" font-size="16.2" text-anchor="end" fill="#231f20">2</text>
<text x="467.8" y="465.9" font-size="16.2" text-anchor="end" fill="#231f20">1</text>
<text x="467.8" y="492.8" font-size="16.2" text-anchor="end" fill="#231f20">0</text>
<text x="467.8" y="519.7" font-size="16.2" text-anchor="end" fill="#231f20">-1</text>
<text transform="translate(448.5,447.3) rotate(-90)" font-size="18.2" text-anchor="middle" fill="#231f20">-dF/dT</text>
<path d="M484.9,589.08 C485.65,591.67 487.86,600.1 489.39,604.59 C490.92,609.08 492.55,612.45 494.08,616.02 C495.61,619.59 497.01,622.99 498.57,626.02 C500.14,629.05 502.01,632.07 503.47,634.18 C504.93,636.29 505.75,637.41 507.35,638.67 C508.95,639.93 511.39,641.12 513.06,641.73 C514.73,642.35 516.02,642.82 517.35,642.35 C518.67,641.87 519.56,641.16 521.02,638.88 C522.48,636.6 524.42,631.73 526.12,628.67 C527.82,625.61 529.76,622.45 531.22,620.51 C532.69,618.57 533.88,617.72 534.9,617.04 C535.92,616.36 536.43,616.19 537.35,616.43 C538.27,616.67 539.22,616.94 540.41,618.47 C541.6,620 542.96,622.55 544.49,625.61 C546.02,628.67 547.89,632.93 549.59,636.84 C551.29,640.75 552.99,645.34 554.69,649.08 C556.39,652.82 557.93,656.22 559.8,659.29 C561.67,662.35 563.88,665.41 565.92,667.45 C567.96,669.49 570,670.68 572.04,671.53 C574.08,672.38 575.44,672.72 578.16,672.55 C580.88,672.38 584.63,671.36 588.37,670.51 C592.11,669.66 596.53,668.47 600.61,667.45 C604.69,666.43 608.78,665.48 612.86,664.39 C616.94,663.3 621.02,661.94 625.1,660.92 C629.18,659.9 633.27,658.98 637.35,658.27 C641.43,657.55 647.55,656.9 649.59,656.63" fill="none" stroke="#6c337b" stroke-width="2.1" stroke-linejoin="round" stroke-linecap="round"/>
<path d="M484.9,593.98 C485.65,596.36 487.86,604.12 489.39,608.27 C490.92,612.41 492.55,615.65 494.08,618.88 C495.61,622.11 496.97,624.9 498.57,627.65 C500.17,630.41 501.63,633.4 503.67,635.41 C505.71,637.41 507.59,638.71 510.82,639.69 C514.05,640.68 518.98,641.12 523.06,641.33 C527.14,641.53 532.24,641.33 535.31,640.92 C538.37,640.51 539.56,640.24 541.43,638.88 C543.3,637.52 544.83,635.99 546.53,632.76 C548.23,629.52 549.93,624.42 551.63,619.49 C553.33,614.56 555.2,607.59 556.73,603.16 C558.27,598.74 559.63,595.24 560.82,592.96 C562.01,590.68 562.86,589.66 563.88,589.49 C564.9,589.32 565.92,590.17 566.94,591.94 C567.96,593.71 568.81,596.02 570,600.1 C571.19,604.18 572.72,610.65 574.08,616.43 C575.44,622.21 576.8,629.01 578.16,634.8 C579.52,640.58 580.88,646.53 582.24,651.12 C583.61,655.71 584.97,659.56 586.33,662.35 C587.69,665.14 589.05,666.73 590.41,667.86 C591.77,668.98 592.45,669.22 594.49,669.08 C596.53,668.95 599.59,667.82 602.65,667.04 C605.71,666.26 609.12,665.41 612.86,664.39 C616.6,663.37 621.02,661.94 625.1,660.92 C629.18,659.9 633.27,658.98 637.35,658.27 C641.43,657.55 647.55,656.9 649.59,656.63" fill="none" stroke="#6c337b" stroke-width="2.1" stroke-linejoin="round" stroke-linecap="round"/>
<path d="M484.9,598.47 C485.65,600.71 487.86,607.99 489.39,611.94 C490.92,615.88 492.55,619.01 494.08,622.14 C495.61,625.27 496.97,627.99 498.57,630.71 C500.17,633.44 501.63,636.39 503.67,638.47 C505.71,640.54 507.93,642.01 510.82,643.16 C513.71,644.32 516.94,644.76 521.02,645.41 C525.1,646.05 530.88,646.26 535.31,647.04 C539.73,647.82 543.47,649.49 547.55,650.1 C551.63,650.71 556.39,650.88 559.8,650.71 C563.2,650.54 565.92,650.03 567.96,649.08 C570,648.13 570.68,647.72 572.04,645 C573.4,642.28 574.76,638.54 576.12,632.76 C577.48,626.97 579.01,617.11 580.2,610.31 C581.39,603.5 582.35,596.8 583.27,591.94 C584.18,587.07 585,583.4 585.71,581.12 C586.43,578.84 586.87,578.16 587.55,578.27 C588.23,578.37 588.98,578.78 589.8,581.73 C590.61,584.69 591.5,589.9 592.45,596.02 C593.4,602.14 594.49,611.33 595.51,618.47 C596.53,625.61 597.55,633.1 598.57,638.88 C599.59,644.66 600.61,649.25 601.63,653.16 C602.65,657.07 603.67,660.31 604.69,662.35 C605.71,664.39 606.39,665.07 607.76,665.41 C609.12,665.75 609.97,665.14 612.86,664.39 C615.75,663.64 621.02,661.94 625.1,660.92 C629.18,659.9 633.27,658.98 637.35,658.27 C641.43,657.55 647.55,656.9 649.59,656.63" fill="none" stroke="#6c337b" stroke-width="2.1" stroke-linejoin="round" stroke-linecap="round"/>
<path d="M485.51,580.51 C486.14,583.37 487.86,591.94 489.29,597.65 C490.71,603.37 492.33,608.78 494.08,614.8 C495.83,620.82 497.89,628.4 499.8,633.78 C501.7,639.15 503.3,643.54 505.51,647.04 C507.72,650.54 510.2,652.55 513.06,654.8 C515.92,657.04 519.49,658.93 522.65,660.51 C525.82,662.09 528.88,663.18 532.04,664.29 C535.2,665.39 538.44,666.19 541.63,667.14 C544.83,668.1 548.06,669.06 551.22,670 C554.39,670.94 557.45,672.02 560.61,672.76 C563.78,673.49 566.94,674.25 570.2,674.39 C573.47,674.52 576.84,674.12 580.2,673.57 C583.57,673.03 587.01,672.07 590.41,671.12 C593.81,670.17 596.87,668.98 600.61,667.86 C604.35,666.73 608.78,665.54 612.86,664.39 C616.94,663.23 621.02,661.94 625.1,660.92 C629.18,659.9 633.27,659.05 637.35,658.27 C641.43,657.48 647.55,656.56 649.59,656.22" fill="none" stroke="#85878a" stroke-width="2.3" stroke-linejoin="round" stroke-linecap="round"/>
<text x="536.5" y="612.5" font-size="18" text-anchor="middle" fill="#231f20">8</text>
<text x="562.8" y="586" font-size="18" text-anchor="middle" fill="#231f20">9</text>
<text x="586.5" y="573.3" font-size="18" text-anchor="middle" fill="#231f20">10</text>
<rect x="476.3" y="552.1" width="183" height="135" fill="none" stroke="#231f20" stroke-width="1.8"/>
<line x1="487.01" y1="687.1" x2="487.01" y2="685.3" stroke="#555" stroke-width="0.8" stroke-linecap="butt"/>
<line x1="497.8" y1="687.1" x2="497.8" y2="683.6" stroke="#231f20" stroke-width="1.3" stroke-linecap="butt"/>
<line x1="508.59" y1="687.1" x2="508.59" y2="685.3" stroke="#555" stroke-width="0.8" stroke-linecap="butt"/>
<line x1="519.37" y1="687.1" x2="519.37" y2="683.6" stroke="#231f20" stroke-width="1.3" stroke-linecap="butt"/>
<line x1="530.15" y1="687.1" x2="530.15" y2="685.3" stroke="#555" stroke-width="0.8" stroke-linecap="butt"/>
<line x1="540.94" y1="687.1" x2="540.94" y2="683.6" stroke="#231f20" stroke-width="1.3" stroke-linecap="butt"/>
<line x1="551.73" y1="687.1" x2="551.73" y2="685.3" stroke="#555" stroke-width="0.8" stroke-linecap="butt"/>
<line x1="562.51" y1="687.1" x2="562.51" y2="683.6" stroke="#231f20" stroke-width="1.3" stroke-linecap="butt"/>
<line x1="573.3" y1="687.1" x2="573.3" y2="685.3" stroke="#555" stroke-width="0.8" stroke-linecap="butt"/>
<line x1="584.08" y1="687.1" x2="584.08" y2="683.6" stroke="#231f20" stroke-width="1.3" stroke-linecap="butt"/>
<line x1="594.87" y1="687.1" x2="594.87" y2="685.3" stroke="#555" stroke-width="0.8" stroke-linecap="butt"/>
<line x1="605.65" y1="687.1" x2="605.65" y2="683.6" stroke="#231f20" stroke-width="1.3" stroke-linecap="butt"/>
<line x1="616.44" y1="687.1" x2="616.44" y2="685.3" stroke="#555" stroke-width="0.8" stroke-linecap="butt"/>
<line x1="627.22" y1="687.1" x2="627.22" y2="683.6" stroke="#231f20" stroke-width="1.3" stroke-linecap="butt"/>
<line x1="638" y1="687.1" x2="638" y2="685.3" stroke="#555" stroke-width="0.8" stroke-linecap="butt"/>
<line x1="648.79" y1="687.1" x2="648.79" y2="683.6" stroke="#231f20" stroke-width="1.3" stroke-linecap="butt"/>
<line x1="476.3" y1="579.1" x2="479.8" y2="579.1" stroke="#231f20" stroke-width="1.3" stroke-linecap="butt"/>
<line x1="476.3" y1="606.1" x2="479.8" y2="606.1" stroke="#231f20" stroke-width="1.3" stroke-linecap="butt"/>
<line x1="476.3" y1="633.1" x2="479.8" y2="633.1" stroke="#231f20" stroke-width="1.3" stroke-linecap="butt"/>
<line x1="476.3" y1="660.1" x2="479.8" y2="660.1" stroke="#231f20" stroke-width="1.3" stroke-linecap="butt"/>
<text x="467.8" y="583.3" font-size="16.2" text-anchor="end" fill="#231f20">3</text>
<text x="467.8" y="610.3" font-size="16.2" text-anchor="end" fill="#231f20">2</text>
<text x="467.8" y="637.3" font-size="16.2" text-anchor="end" fill="#231f20">1</text>
<text x="467.8" y="664.3" font-size="16.2" text-anchor="end" fill="#231f20">0</text>
<text x="467.8" y="691.3" font-size="16.2" text-anchor="end" fill="#231f20">-1</text>
<text transform="translate(448.5,628.2) rotate(-90)" font-size="18.2" text-anchor="middle" fill="#231f20">-dF/dT</text>
<text x="496.4" y="705.9" font-size="15.8" text-anchor="middle" fill="#231f20">50</text>
<text x="539.54" y="705.9" font-size="15.8" text-anchor="middle" fill="#231f20">60</text>
<text x="582.68" y="705.9" font-size="15.8" text-anchor="middle" fill="#231f20">70</text>
<text x="625.82" y="705.9" font-size="15.8" text-anchor="middle" fill="#231f20">80</text>
<text x="564.6" y="726.6" font-size="18.1" text-anchor="middle" fill="#231f20">Temperature (°C)</text>
<path d="M751.1,231.43 C753.25,230.18 760.17,226.89 764.03,223.94 C767.88,220.99 770.83,218.56 774.23,213.74 C777.64,208.92 781.04,203.24 784.44,195.02 C787.84,186.8 791.53,174.89 794.65,164.4 C797.77,153.91 800.6,142 803.15,132.08 C805.71,122.15 807.97,111.55 809.96,104.86 C811.94,98.16 813.48,94.76 815.06,91.93 C816.65,89.09 818.01,87.84 819.49,87.84 C820.96,87.84 822.09,88.24 823.91,91.93 C825.72,95.61 827.88,101 830.37,109.96 C832.87,118.92 836.05,134.06 838.88,145.69 C841.72,157.31 844.55,169.5 847.39,179.71 C850.22,189.92 853.06,199.28 855.89,206.93 C858.73,214.59 861.56,220.82 864.4,225.64 C867.23,230.47 869.79,233.02 872.91,235.85 C876.02,238.69 879.71,240.84 883.11,242.66 C886.52,244.47 889.35,245.66 893.32,246.74 C897.29,247.82 900.13,248.16 906.93,249.12 C913.74,250.09 925.64,251.56 934.15,252.52 C942.66,253.49 951.16,254.62 957.97,254.91 C964.77,255.19 968.74,254.68 974.98,254.23 C981.22,253.77 988.59,253.04 995.4,252.18 C1002.2,251.33 1009.29,250.2 1015.81,249.12 C1022.33,248.04 1031.41,246.29 1034.53,245.72" fill="none" stroke="#d2232a" stroke-width="2" stroke-linejoin="round" stroke-linecap="round"/>
<path d="M751.1,231.77 C753.25,231.32 759.6,230.47 764.03,229.05 C768.45,227.63 773.67,225.81 777.64,223.26 C781.6,220.71 784.44,218.16 787.84,213.74 C791.25,209.31 794.65,203.24 798.05,196.72 C801.45,190.2 805.42,179.88 808.26,174.61 C811.09,169.33 812.91,167.46 815.06,165.08 C817.22,162.7 819.2,160.54 821.19,160.32 C823.17,160.09 824.87,161.05 826.97,163.72 C829.07,166.38 831.22,170.81 833.78,176.31 C836.33,181.81 839.16,189.92 842.28,196.72 C845.4,203.53 849.09,211.35 852.49,217.14 C855.89,222.92 859.3,227.91 862.7,231.43 C866.1,234.94 869.5,236.19 872.91,238.23 C876.31,240.28 879.71,242.26 883.11,243.68 C886.52,245.1 889.35,245.83 893.32,246.74 C897.29,247.65 900.13,248.16 906.93,249.12 C913.74,250.09 925.64,251.56 934.15,252.52 C942.66,253.49 951.16,254.62 957.97,254.91 C964.77,255.19 968.74,254.68 974.98,254.23 C981.22,253.77 988.59,253.04 995.4,252.18 C1002.2,251.33 1009.29,250.2 1015.81,249.12 C1022.33,248.04 1031.41,246.29 1034.53,245.72" fill="none" stroke="#ef8f2f" stroke-width="2" stroke-linejoin="round" stroke-linecap="round"/>
<path d="M751.1,232.11 C754.38,232.05 765.27,232.11 770.83,231.77 C776.39,231.43 780.47,231.26 784.44,230.07 C788.41,228.88 791.25,227.06 794.65,224.62 C798.05,222.19 801.45,218.33 804.86,215.44 C808.26,212.55 811.94,209.14 815.06,207.27 C818.18,205.4 820.73,204.21 823.57,204.21 C826.4,204.21 829.24,205.4 832.08,207.27 C834.91,209.14 837.46,212.09 840.58,215.44 C843.7,218.78 847.39,223.94 850.79,227.35 C854.19,230.75 857.31,233.58 861,235.85 C864.68,238.12 869.22,239.54 872.91,240.96 C876.59,242.37 879.71,243.39 883.11,244.36 C886.52,245.32 889.35,245.95 893.32,246.74 C897.29,247.53 900.13,248.16 906.93,249.12 C913.74,250.09 925.64,251.56 934.15,252.52 C942.66,253.49 951.16,254.62 957.97,254.91 C964.77,255.19 968.74,254.68 974.98,254.23 C981.22,253.77 988.59,253.04 995.4,252.18 C1002.2,251.33 1009.29,250.2 1015.81,249.12 C1022.33,248.04 1031.41,246.29 1034.53,245.72" fill="none" stroke="#2f9a48" stroke-width="2.2" stroke-linejoin="round" stroke-linecap="round"/>
<path d="M751.1,232.11 C754.38,232.22 765.27,232.9 770.83,232.79 C776.39,232.68 780.47,232.34 784.44,231.43 C788.41,230.52 791.25,229.16 794.65,227.35 C798.05,225.53 801.45,222.64 804.86,220.54 C808.26,218.44 812.11,216.06 815.06,214.76 C818.01,213.45 820,212.6 822.55,212.72 C825.1,212.83 827.65,213.85 830.37,215.44 C833.1,217.03 835.76,219.58 838.88,222.24 C842,224.91 845.69,228.88 849.09,231.43 C852.49,233.98 855.33,235.8 859.3,237.55 C863.27,239.31 868.94,240.79 872.91,241.98 C876.88,243.17 879.71,243.85 883.11,244.7 C886.52,245.55 889.35,246.29 893.32,247.08 C897.29,247.87 900.13,248.5 906.93,249.46 C913.74,250.43 925.64,251.9 934.15,252.86 C942.66,253.83 951.16,254.96 957.97,255.25 C964.77,255.53 968.74,255.02 974.98,254.57 C981.22,254.11 988.59,253.38 995.4,252.52 C1002.2,251.67 1009.29,250.54 1015.81,249.46 C1022.33,248.38 1031.41,246.63 1034.53,246.06" fill="none" stroke="#2f8fd0" stroke-width="2.2" stroke-linejoin="round" stroke-linecap="round"/>
<path d="M751.1,232.11 C754.38,232.34 765.27,233.36 770.83,233.47 C776.39,233.58 780.47,233.36 784.44,232.79 C788.41,232.22 791.25,231.43 794.65,230.07 C798.05,228.71 801.45,226.38 804.86,224.62 C808.26,222.87 812.34,220.6 815.06,219.52 C817.78,218.44 818.92,217.99 821.19,218.16 C823.46,218.33 826.01,219.12 828.67,220.54 C831.34,221.96 834.06,224.4 837.18,226.67 C840.3,228.93 843.7,232.05 847.39,234.15 C851.07,236.25 855.04,237.84 859.3,239.25 C863.55,240.67 868.94,241.69 872.91,242.66 C876.88,243.62 879.71,244.39 883.11,245.04 C886.52,245.69 889.35,245.92 893.32,246.57 C897.29,247.22 900.13,248.02 906.93,248.95 C913.74,249.89 925.64,251.28 934.15,252.18 C942.66,253.09 951.16,254.17 957.97,254.4 C964.77,254.62 968.74,254.08 974.98,253.55 C981.22,253.01 988.59,252.1 995.4,251.16 C1002.2,250.23 1009.29,249.07 1015.81,247.93 C1022.33,246.8 1031.41,244.95 1034.53,244.36" fill="none" stroke="#7a2f8e" stroke-width="2.2" stroke-linejoin="round" stroke-linecap="round"/>
<path d="M751.1,232.45 C756.09,232.9 770.38,234.21 781.04,235.17 C791.7,236.14 803.72,237.27 815.06,238.23 C826.4,239.2 837.75,239.82 849.09,240.96 C860.43,242.09 873.47,243.73 883.11,245.04 C892.75,246.34 898.42,247.59 906.93,248.78 C915.44,249.97 925.64,251.22 934.15,252.18 C942.66,253.15 951.16,254.28 957.97,254.57 C964.77,254.85 968.74,254.34 974.98,253.89 C981.22,253.43 988.59,252.69 995.4,251.84 C1002.2,250.99 1009.29,249.86 1015.81,248.78 C1022.33,247.7 1031.41,245.95 1034.53,245.38" fill="none" stroke="#85878a" stroke-width="2" stroke-linejoin="round" stroke-linecap="round"/>
<rect x="735.9" y="37.5" width="315.6" height="232" fill="none" stroke="#231f20" stroke-width="1.5"/>
<line x1="773.2" y1="269.5" x2="773.2" y2="264.3" stroke="#231f20" stroke-width="1.3" stroke-linecap="butt"/>
<line x1="810.3" y1="269.5" x2="810.3" y2="264.3" stroke="#231f20" stroke-width="1.3" stroke-linecap="butt"/>
<line x1="847.4" y1="269.5" x2="847.4" y2="264.3" stroke="#231f20" stroke-width="1.3" stroke-linecap="butt"/>
<line x1="884.5" y1="269.5" x2="884.5" y2="264.3" stroke="#231f20" stroke-width="1.3" stroke-linecap="butt"/>
<line x1="921.6" y1="269.5" x2="921.6" y2="264.3" stroke="#231f20" stroke-width="1.3" stroke-linecap="butt"/>
<line x1="958.7" y1="269.5" x2="958.7" y2="264.3" stroke="#231f20" stroke-width="1.3" stroke-linecap="butt"/>
<line x1="995.8" y1="269.5" x2="995.8" y2="264.3" stroke="#231f20" stroke-width="1.3" stroke-linecap="butt"/>
<line x1="1032.9" y1="269.5" x2="1032.9" y2="264.3" stroke="#231f20" stroke-width="1.3" stroke-linecap="butt"/>
<line x1="754.65" y1="269.5" x2="754.65" y2="267.6" stroke="#231f20" stroke-width="0.8" stroke-linecap="butt"/>
<line x1="791.75" y1="269.5" x2="791.75" y2="267.6" stroke="#231f20" stroke-width="0.8" stroke-linecap="butt"/>
<line x1="828.85" y1="269.5" x2="828.85" y2="267.6" stroke="#231f20" stroke-width="0.8" stroke-linecap="butt"/>
<line x1="865.95" y1="269.5" x2="865.95" y2="267.6" stroke="#231f20" stroke-width="0.8" stroke-linecap="butt"/>
<line x1="903.05" y1="269.5" x2="903.05" y2="267.6" stroke="#231f20" stroke-width="0.8" stroke-linecap="butt"/>
<line x1="940.15" y1="269.5" x2="940.15" y2="267.6" stroke="#231f20" stroke-width="0.8" stroke-linecap="butt"/>
<line x1="977.25" y1="269.5" x2="977.25" y2="267.6" stroke="#231f20" stroke-width="0.8" stroke-linecap="butt"/>
<line x1="1014.35" y1="269.5" x2="1014.35" y2="267.6" stroke="#231f20" stroke-width="0.8" stroke-linecap="butt"/>
<text x="737.8" y="290.4" font-size="17" text-anchor="middle" fill="#231f20">45</text>
<text x="774.9" y="290.4" font-size="17" text-anchor="middle" fill="#231f20">50</text>
<text x="812" y="290.4" font-size="17" text-anchor="middle" fill="#231f20">55</text>
<text x="849.1" y="290.4" font-size="17" text-anchor="middle" fill="#231f20">60</text>
<text x="886.2" y="290.4" font-size="17" text-anchor="middle" fill="#231f20">65</text>
<text x="923.3" y="290.4" font-size="17" text-anchor="middle" fill="#231f20">70</text>
<text x="960.4" y="290.4" font-size="17" text-anchor="middle" fill="#231f20">75</text>
<text x="997.5" y="290.4" font-size="17" text-anchor="middle" fill="#231f20">80</text>
<text x="1034.6" y="290.4" font-size="17" text-anchor="middle" fill="#231f20">85</text>
<line x1="735.9" y1="236.5" x2="741.1" y2="236.5" stroke="#231f20" stroke-width="1.3" stroke-linecap="butt"/>
<line x1="735.9" y1="170.15" x2="741.1" y2="170.15" stroke="#231f20" stroke-width="1.3" stroke-linecap="butt"/>
<line x1="735.9" y1="103.8" x2="741.1" y2="103.8" stroke="#231f20" stroke-width="1.3" stroke-linecap="butt"/>
<line x1="735.9" y1="37.45" x2="741.1" y2="37.45" stroke="#231f20" stroke-width="1.3" stroke-linecap="butt"/>
<line x1="735.9" y1="203.32" x2="737.8" y2="203.32" stroke="#231f20" stroke-width="0.8" stroke-linecap="butt"/>
<line x1="735.9" y1="136.98" x2="737.8" y2="136.98" stroke="#231f20" stroke-width="0.8" stroke-linecap="butt"/>
<line x1="735.9" y1="70.62" x2="737.8" y2="70.62" stroke="#231f20" stroke-width="0.8" stroke-linecap="butt"/>
<text x="729.2" y="241.7" font-size="17" text-anchor="end" fill="#231f20">0</text>
<text x="729.2" y="175.35" font-size="17" text-anchor="end" fill="#231f20">1</text>
<text x="729.2" y="109" font-size="17" text-anchor="end" fill="#231f20">2</text>
<text x="729.2" y="42.65" font-size="17" text-anchor="end" fill="#231f20">3</text>
<text transform="translate(705.3,161.8) rotate(-90)" font-size="20" text-anchor="middle" fill="#231f20">-dF/dT</text>
<text x="897.2" y="316.8" font-size="20.3" text-anchor="middle" fill="#231f20">Temperature (°C)</text>
<text x="858.8" y="72.2" font-size="18" text-anchor="start" fill="#231f20">c.34G&gt;A (%)</text>
<text x="905.5" y="104.9" font-size="17.5" text-anchor="end" fill="#231f20">100</text>
<text x="905.5" y="130.3" font-size="17.5" text-anchor="end" fill="#231f20">50</text>
<text x="905.5" y="155.7" font-size="17.5" text-anchor="end" fill="#231f20">25</text>
<text x="905.5" y="181.1" font-size="17.5" text-anchor="end" fill="#231f20">10</text>
<text x="905.5" y="206.5" font-size="17.5" text-anchor="end" fill="#231f20">5</text>
<text x="905.5" y="231.9" font-size="17.5" text-anchor="end" fill="#231f20">0</text>
<line x1="915.4" y1="93" x2="915.4" y2="222" stroke="#231f20" stroke-width="1.9" stroke-linecap="butt"/>
<path d="M915.4,232 L908.7,217 L915.4,221 L922.1,217 Z" fill="#000"/>
<text x="720.5" y="373.3" font-size="20.1" text-anchor="start" fill="#231f20">Frequency of each <tspan font-style="italic">KRAS</tspan> mutation</text>
<path d="M839.4,572.3 L839.4,443.9 A128.4,128.4 0 0 1 917.56,674.17 Z" fill="#3389b9" stroke="#fff" stroke-width="5" stroke-linejoin="miter"/>
<path d="M839.4,572.3 L917.56,674.17 A128.4,128.4 0 0 1 728.2,636.5 Z" fill="#b75456" stroke="#fff" stroke-width="5" stroke-linejoin="miter"/>
<path d="M839.4,572.3 L728.2,636.5 A128.4,128.4 0 0 1 775.22,461.09 Z" fill="#95b661" stroke="#fff" stroke-width="5" stroke-linejoin="miter"/>
<path d="M839.4,572.3 L775.22,461.09 A128.4,128.4 0 0 1 822.67,445 Z" fill="#6f3580" stroke="#fff" stroke-width="5" stroke-linejoin="miter"/>
<path d="M839.4,572.3 L822.67,445 A128.4,128.4 0 0 1 839.4,443.9 Z" fill="#46a6bf" stroke="#fff" stroke-width="5" stroke-linejoin="miter"/>
<text x="912.3" y="566.5" font-size="17.8" text-anchor="middle" fill="#fff">39.58%</text>
<text x="837.6" y="664.8" font-size="17.8" text-anchor="middle" fill="#fff">27.08%</text>
<text x="776.1" y="561.9" font-size="17.8" text-anchor="middle" fill="#fff">25.00%</text>
<text x="784.6" y="434.2" font-size="17.5" text-anchor="middle" fill="#231f20">6.25%</text>
<text x="846.5" y="429.3" font-size="17.5" text-anchor="middle" fill="#231f20">2.08%</text>
<line x1="788.1" y1="438.3" x2="791.6" y2="454.2" stroke="#231f20" stroke-width="1.3" stroke-linecap="butt"/>
<line x1="833.6" y1="434.2" x2="830.9" y2="446.6" stroke="#231f20" stroke-width="1.3" stroke-linecap="butt"/>
<rect x="963.5" y="404.7" width="5.6" height="5.6" fill="#3389b9"/>
<text x="974.3" y="412.3" font-size="18" text-anchor="start" fill="#231f20">c.35G&gt;A</text>
<rect x="963.5" y="433.6" width="5.6" height="5.6" fill="#b75456"/>
<text x="974.3" y="441.2" font-size="18" text-anchor="start" fill="#231f20">c.35G&gt;T</text>
<rect x="963.5" y="462.1" width="5.6" height="5.6" fill="#95b661"/>
<text x="974.3" y="469.7" font-size="18" text-anchor="start" fill="#231f20">c.38G&gt;A</text>
<rect x="963.5" y="490.7" width="5.6" height="5.6" fill="#6f3580"/>
<text x="974.3" y="498.3" font-size="18" text-anchor="start" fill="#231f20">c.34G&gt;T</text>
<rect x="963.5" y="516.2" width="5.6" height="5.6" fill="#46a6bf"/>
<text x="974.3" y="523.8" font-size="18" text-anchor="start" fill="#231f20">c.34G&gt;A</text>
</svg>
</body>
</html>
